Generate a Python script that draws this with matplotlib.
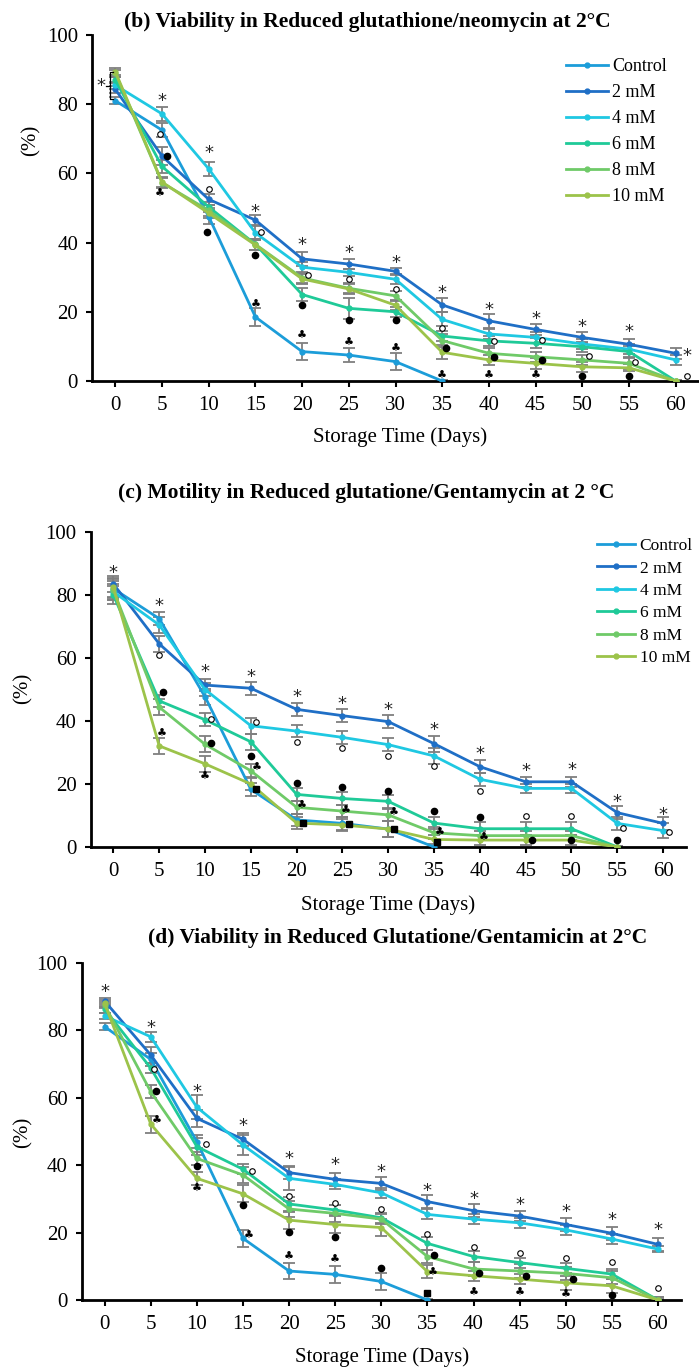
import numpy as np
import matplotlib
matplotlib.use("Agg")
import matplotlib.pyplot as plt
from matplotlib.lines import Line2D

plt.rcParams['font.family'] = ['Liberation Serif', 'DejaVu Sans']

nan = np.nan
days = [0, 5, 10, 15, 20, 25, 30, 35, 40, 45, 50, 55, 60]
groups = ["Control", "2 mM", "4 mM", "6 mM", "8 mM", "10 mM"]
colors = ["#1c9dd9", "#1f6fc6", "#1fc8e2", "#1fca98", "#6fca68", "#9cc34a"]

# (b) viability, reduced glutathione / neomycin
b_ctrl = [81.0, 72.5, 47.5, 18.5, 8.5, 7.5, 5.6, 0, nan, nan, nan, nan, nan]
b_2mm = [84.3, 65.0, 52.5, 46.5, 35.3, 33.8, 31.7, 22.0, 17.4, 14.9, 12.6, 10.6, 8.0]
b_4mm = [85.5, 77.2, 61.3, 42.8, 32.9, 31.4, 29.4, 17.8, 13.6, 12.6, 10.7, 9.2, 6.1]
b_6mm = [87.0, 62.0, 50.3, 39.5, 25.0, 21.0, 20.0, 13.0, 11.6, 10.9, 9.9, 8.5, 0]
b_8mm = [89.0, 57.3, 49.3, 39.5, 29.8, 26.8, 24.6, 11.7, 8.0, 7.0, 6.1, 5.1, 0]
b_10mm = [89.4, 57.5, 48.5, 39.3, 29.5, 26.6, 21.9, 8.3, 6.1, 5.1, 4.1, 3.8, 0]
b_err = [
    [1.0, 2.0, 2.0, 2.5, 2.5, 2.0, 2.5, 0.3, nan, nan, nan, nan, nan],
    [1.0, 2.5, 1.5, 1.5, 2.0, 1.5, 1.0, 2.0, 2.0, 1.5, 1.5, 1.5, 1.5],
    [1.0, 2.0, 2.0, 2.0, 1.5, 1.0, 1.5, 2.0, 1.5, 1.5, 1.5, 1.5, 1.5],
    [1.0, 2.0, 1.5, 1.5, 2.0, 3.0, 1.5, 1.5, 1.5, 1.5, 1.5, 1.5, 0.3],
    [1.0, 1.5, 1.5, 1.5, 1.5, 1.5, 1.5, 2.0, 1.5, 1.5, 1.5, 1.5, 0.3],
    [1.0, 1.5, 1.5, 1.5, 1.5, 1.5, 1.5, 2.0, 1.5, 1.5, 1.5, 1.0, 0.3],
]
b_marks = [
    (-1.5, 85.4, "*"),
    (5, 81, "*"), (4.8, 71.5, "o"), (5.5, 65, "f"), (4.8, 54, "c"),
    (10, 66, "*"), (10, 55.5, "o"), (9.8, 43, "f"),
    (15, 48.8, "*"), (15.6, 43, "o"), (15, 36.5, "f"), (15, 22, "c"),
    (20, 39.3, "*"), (20.6, 30.5, "o"), (20, 22, "f"), (20, 13, "c"),
    (25, 37, "*"), (25, 29.4, "o"), (25, 17.5, "f"), (25, 11, "c"),
    (30, 34.2, "*"), (30, 26.5, "o"), (30, 17.5, "f"), (30, 9.3, "c"),
    (35, 25.5, "*"), (35, 15.3, "o"), (35.4, 9.4, "f"), (35, 1.5, "c"),
    (40, 20.5, "*"), (40.6, 11.5, "o"), (40.6, 7, "f"), (40, 1.5, "c"),
    (45, 18, "*"), (45.7, 11.8, "o"), (45.7, 6.1, "f"), (45, 1.5, "c"),
    (50, 15.7, "*"), (50.7, 7.2, "o"), (50, 1.4, "f"),
    (55, 14.2, "*"), (55.7, 5.6, "o"), (55, 1.4, "f"),
    (61.2, 7.3, "*"), (61.2, 1.4, "o"),
]

# (c) motility, reduced glutathione / gentamycin
c_ctrl = [82.0, 72.5, 47.7, 18.3, 8.6, 7.5, 5.7, 0, nan, nan, nan, nan, nan]
c_2mm = [83.5, 64.5, 51.4, 50.4, 43.7, 41.7, 39.8, 32.8, 25.5, 20.7, 20.7, 10.9, 7.5]
c_4mm = [81.0, 70.5, 50.0, 38.5, 36.8, 34.8, 32.5, 28.9, 21.5, 18.6, 18.6, 7.5, 5.2]
c_6mm = [80.0, 46.4, 40.4, 33.4, 16.7, 15.4, 14.5, 7.6, 5.8, 5.8, 5.8, 0, nan]
c_8mm = [81.5, 44.4, 32.6, 24.2, 12.6, 11.4, 10.2, 4.5, 3.6, 3.6, 3.6, 0, nan]
c_10mm = [82.5, 32.1, 26.4, 20.0, 7.6, 7.0, 5.7, 2.4, 2.2, 2.2, 2.2, 0, nan]
c_err = [
    [3.0, 2.0, 2.5, 2.0, 2.0, 2.0, 2.5, 0.3, nan, nan, nan, nan, nan],
    [2.5, 2.5, 2.0, 2.0, 2.0, 2.0, 2.0, 2.5, 2.0, 1.5, 1.5, 2.0, 2.0],
    [2.5, 2.5, 2.0, 2.5, 2.0, 2.0, 2.0, 2.5, 2.0, 1.5, 1.5, 2.0, 2.5],
    [3.0, 2.0, 2.0, 2.5, 2.0, 2.0, 2.0, 2.0, 2.0, 2.0, 2.0, 0.3, nan],
    [3.0, 2.5, 2.5, 2.0, 2.0, 2.0, 2.0, 2.0, 1.5, 1.5, 1.5, 0.3, nan],
    [3.0, 2.5, 2.5, 2.0, 2.0, 2.0, 2.5, 1.5, 1.5, 1.5, 1.5, 0.3, nan],
]
c_marks = [
    (0, 87, "*"),
    (5, 76.6, "*"), (5, 61, "o"), (5.4, 49.3, "f"), (5.3, 36, "c"),
    (10, 55.7, "*"), (10.6, 40.6, "o"), (10.7, 33.1, "f"), (10, 22.3, "c"),
    (15, 54.1, "*"), (15.6, 39.8, "o"), (15, 29, "f"), (15.7, 25, "c"), (15.6, 18.4, "s"),
    (20, 47.5, "*"), (20, 33.4, "o"), (20, 20.4, "f"), (20.6, 13.1, "c"), (20.7, 7.7, "s"),
    (25, 45.5, "*"), (25, 31.5, "o"), (25, 19.1, "f"), (25.4, 11.5, "c"), (25.7, 7.2, "s"),
    (30, 43.5, "*"), (30, 28.9, "o"), (30, 17.9, "f"), (30.6, 10.9, "c"), (30.6, 5.6, "s"),
    (35, 37.1, "*"), (35, 25.7, "o"), (35, 11.4, "f"), (35.6, 4.3, "c"), (35.3, 1.5, "s"),
    (40, 29.5, "*"), (40, 17.9, "o"), (40, 9.6, "f"), (40.4, 3.0, "c"),
    (45, 24.2, "*"), (45, 9.8, "o"), (45.7, 2.2, "f"),
    (50, 24.4, "*"), (50, 9.8, "o"), (50, 2.2, "f"),
    (55, 14.2, "*"), (55.6, 5.9, "o"), (55, 2.2, "f"),
    (60, 10.2, "*"), (60.6, 4.9, "o"),
]

# (d) viability, reduced glutathione / gentamicin
d_ctrl = [81.1, 71.4, 47.0, 18.3, 8.6, 7.6, 5.5, 0, nan, nan, nan, nan, nan]
d_2mm = [88.7, 72.7, 53.9, 47.7, 37.8, 35.8, 34.6, 29.2, 26.5, 24.9, 22.4, 19.8, 16.5]
d_4mm = [84.3, 78.1, 57.2, 46.0, 36.1, 34.3, 31.8, 25.4, 24.0, 22.9, 20.8, 18.1, 15.1]
d_6mm = [86.3, 68.8, 45.5, 38.8, 28.5, 26.7, 24.4, 16.8, 12.9, 11.1, 9.4, 7.7, 0]
d_8mm = [87.5, 61.8, 42.0, 37.1, 27.0, 25.7, 24.0, 12.9, 9.2, 8.6, 7.9, 6.6, 0]
d_10mm = [88.0, 52.2, 36.1, 31.5, 23.7, 22.4, 21.5, 8.4, 7.2, 6.2, 5.1, 4.2, 0]
d_err = [
    [1.0, 2.0, 2.0, 2.5, 2.5, 2.5, 2.5, 0.3, nan, nan, nan, nan, nan],
    [1.0, 2.5, 2.5, 2.0, 2.0, 2.0, 2.0, 2.0, 2.0, 1.5, 2.0, 2.0, 2.0],
    [1.0, 1.5, 3.5, 3.0, 3.5, 1.5, 1.5, 1.5, 1.5, 1.5, 1.5, 1.5, 1.0],
    [1.0, 1.5, 2.5, 1.5, 2.0, 1.5, 1.5, 2.0, 1.5, 1.5, 1.5, 1.5, 1.0],
    [1.0, 2.0, 2.0, 2.5, 2.5, 2.5, 1.5, 2.0, 2.0, 2.0, 2.0, 2.0, 1.0],
    [1.0, 2.5, 2.0, 2.5, 2.5, 2.5, 2.5, 2.0, 1.5, 1.5, 2.0, 2.0, 0.3],
]
d_marks = [
    (0, 91.5, "*"),
    (5, 80.6, "*"), (5.3, 68.5, "o"), (5.6, 62.1, "f"), (5.6, 53.1, "c"),
    (10, 61.8, "*"), (11.0, 46.2, "o"), (10, 39.9, "f"), (10, 32.8, "c"),
    (15, 51.6, "*"), (16.0, 38.3, "o"), (15, 28.2, "f"), (15.6, 19, "c"),
    (20, 41.7, "*"), (20, 31, "o"), (20, 20.3, "f"), (20, 12.9, "c"),
    (25, 40.1, "*"), (25, 28.7, "o"), (25, 18.8, "f"), (25, 11.9, "c"),
    (30, 38.1, "*"), (30, 27, "o"), (30, 9.4, "f"),
    (35, 32.4, "*"), (35, 19.6, "o"), (35.7, 13.4, "f"), (35.6, 8.1, "c"), (35, 2.0, "s"),
    (40, 29.9, "*"), (40, 15.6, "o"), (40.6, 7.9, "f"), (40, 2.0, "c"),
    (45, 28.2, "*"), (45, 13.9, "o"), (45.7, 7.2, "f"), (45, 2.0, "c"),
    (50, 26.0, "*"), (50, 12.4, "o"), (50.8, 6.2, "f"), (50, 1.5, "c"),
    (55, 23.7, "*"), (55, 11.4, "o"), (55, 1.5, "f"),
    (60, 20.8, "*"), (60, 3.5, "o"),
]

panels = [
    ("(b) Viability in Reduced glutathione/neomycin at 2\u00b0C",
     [b_ctrl, b_2mm, b_4mm, b_6mm, b_8mm, b_10mm], b_err, b_marks),
    ("(c) Motility in Reduced glutatione/Gentamycin at 2 \u00b0C",
     [c_ctrl, c_2mm, c_4mm, c_6mm, c_8mm, c_10mm], c_err, c_marks),
    ("(d) Viability in Reduced Glutatione/Gentamicin at 2\u00b0C",
     [d_ctrl, d_2mm, d_4mm, d_6mm, d_8mm, d_10mm], d_err, d_marks),
]

W, H = 699, 1369
fig = plt.figure(figsize=(W / 100, H / 100), dpi=100)

# pixel boxes: left, right, top(y=100), bottom(y=0)
boxes = [(92, 699, 35, 381), (90.5, 686, 532, 847), (81.6, 681, 963, 1300)]
title_pos = [(367, 22), (366, 493), (398, 938)]
xlabel_pos = [(400, 437), (388, 905), (382, 1357)]
ylabel_pos = [(31, 140), (23, 688), (23, 1132)]


def px(x, y):
    return x / W, 1 - y / H


def draw_mark(ax, x, y, kind):
    if kind == "*":
        ax.text(x, y, "*", fontsize=13, ha="center", va="center",
                family="DejaVu Sans", color="#222222", zorder=6)
    elif kind == "c":
        ax.text(x, y, "\u2663", fontsize=8, ha="center", va="center",
                family="DejaVu Sans", color="black", zorder=6)
    elif kind == "o":
        ax.plot(x, y, "o", ms=4, mfc="white", mec="black", mew=0.8, zorder=6, clip_on=False)
    elif kind == "f":
        ax.plot(x, y, "o", ms=4.5, color="black", zorder=6, clip_on=False)
    elif kind == "s":
        ax.plot(x, y, "s", ms=4.5, color="black", zorder=6, clip_on=False)


for i, (title, series, errs, marks) in enumerate(panels):
    l, r, t, b = boxes[i]
    ax = fig.add_axes([l / W, 1 - b / H, (r - l) / W, (b - t) / H])
    for vals, err, col in zip(series, errs, colors):
        ax.errorbar(days, vals, yerr=err, fmt="none", ecolor="#7f7f7f",
                    elinewidth=1.3, capsize=4, capthick=1.3, zorder=2)
    for vals, col in zip(series, colors):
        ax.plot(days, vals, "-o", color=col, lw=2.0, ms=3.5, zorder=3)
    for x, y, kind in marks:
        draw_mark(ax, x, y, kind)

    ax.set_xlim(-2.5, 62.5)
    ax.set_ylim(0, 100)
    ax.set_xticks(days)
    ax.set_yticks([0, 20, 40, 60, 80, 100])
    for s in ["top", "right"]:
        ax.spines[s].set_visible(False)
    for s in ["left", "bottom"]:
        ax.spines[s].set_linewidth(2.0)
    ax.tick_params(axis="both", direction="out", length=4, width=1.5, labelsize=15)
    ax.tick_params(axis="x", pad=7)
    ax.tick_params(axis="y", pad=6)

    fig.text(*px(*title_pos[i]), title, fontsize=15.5, fontweight="bold",
             ha="center", va="center")
    fig.text(*px(*xlabel_pos[i]), "Storage Time (Days)", fontsize=15,
             ha="center", va="center")
    fig.text(*px(*ylabel_pos[i]), "(%)", fontsize=15, rotation=90,
             ha="center", va="center")

    if i == 0:
        # bracket over the day-0 points
        ax.plot([-0.3, -0.55, -0.55, -0.3], [89.4, 89.4, 81.4, 81.4],
                color="black", lw=0.9, zorder=5, clip_on=False)
        ax.plot([-0.95, -0.55], [85.4, 85.4], color="black", lw=0.9, zorder=5)

handles = [Line2D([], [], color=c, lw=2.0, marker="o", ms=3.5) for c in colors]
fig.legend(handles, groups, loc="upper left", bbox_to_anchor=px(566, 58),
           frameon=False, fontsize=13, handlelength=2.3, handletextpad=0.25,
           labelspacing=0.5, borderaxespad=0, borderpad=0)
fig.legend(handles, groups, loc="upper left", bbox_to_anchor=px(597, 538),
           frameon=False, fontsize=12.5, handlelength=2.2, handletextpad=0.25,
           labelspacing=0.36, borderaxespad=0, borderpad=0)

fig.savefig("out.png", dpi=100)
